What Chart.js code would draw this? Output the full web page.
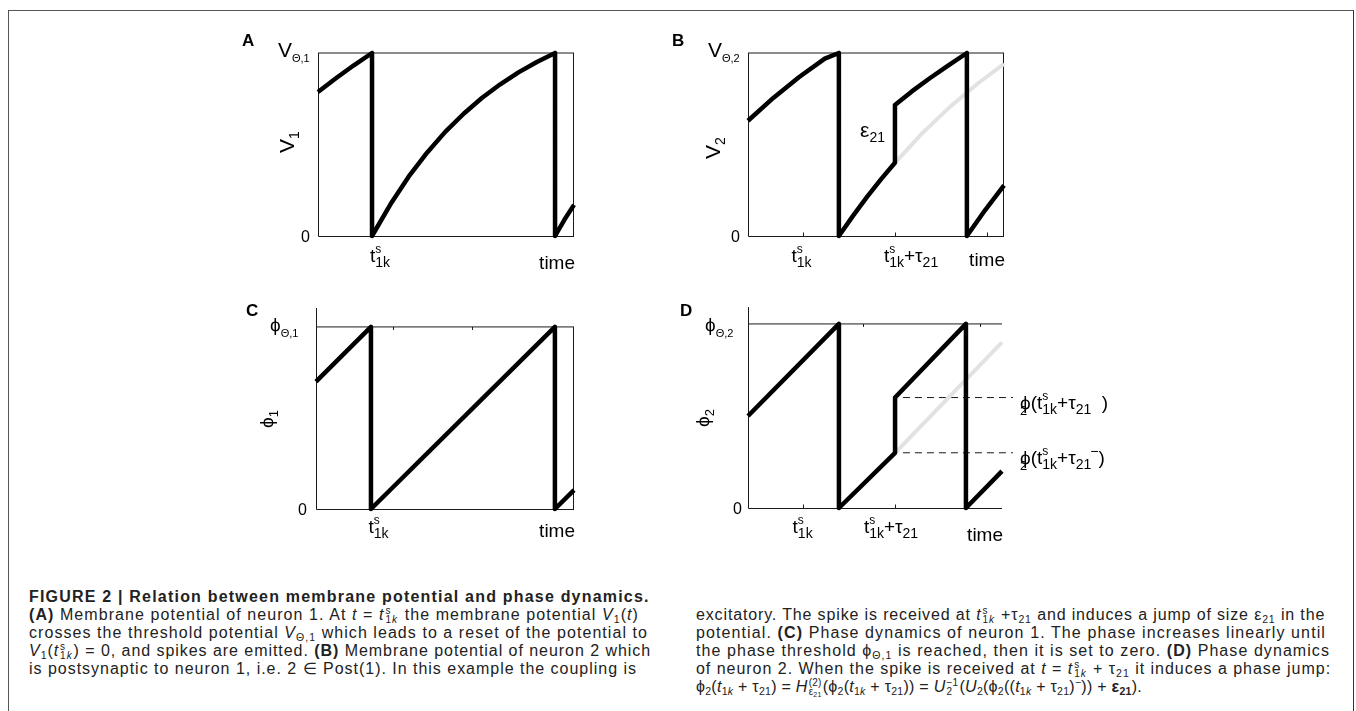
<!DOCTYPE html>
<html><head><meta charset="utf-8">
<script src="https://cdn.jsdelivr.net/npm/chart.js@4.4.0/dist/chart.umd.min.js"></script>
<style>
html,body{margin:0;padding:0;background:#fff;width:1356px;height:711px;overflow:hidden;position:relative}
#frame{position:absolute;left:8px;top:10px;width:1346px;height:800px;border:1px solid #555;border-right:1.5px solid #333;box-sizing:border-box}
canvas{position:absolute}
.ln{position:absolute;white-space:nowrap;font-family:"Liberation Sans",Arial,sans-serif;font-size:16px;line-height:18px;color:#222}
.ln sub{font-size:10.5px;vertical-align:-3px;line-height:0}
.ln sup{font-size:10.5px;vertical-align:6px;line-height:0}
.st{display:inline-flex;flex-direction:column;font-size:10px;line-height:9px;vertical-align:6px;margin:0 1px}
.st sub{font-size:7px;vertical-align:-2px}
</style></head>
<body>
<div id="frame"></div>
<div id="cap"></div>
<script>
// ---------------- data ----------------
const timeA = [0, 0.7, 1.4, 2.11, 2.11, 2.83, 3.54, 4.26, 4.97, 5.69, 6.40, 7.12, 7.83, 8.55, 9.26, 9.26, 9.63, 10];
const v1    = [0.787, 0.862, 0.933, 1, 0, 0.173, 0.324, 0.455, 0.569, 0.668, 0.754, 0.829, 0.894, 0.951, 1, 0, 0.09, 0.17];

const timeB = [0, 1, 2, 3, 3.55, 3.55, 4.1, 4.65, 5.2, 5.74, 5.74, 6.4, 7.1, 7.8, 8.55, 8.55, 9.25, 10];
const v2    = [0.63, 0.756, 0.869, 0.969, 1, 0, 0.110, 0.214, 0.311, 0.40, 0.716, 0.79, 0.862, 0.93, 1, 0, 0.139, 0.276];
const timeBNoJump = [5.74, 6.8, 7.9, 9.0, 10];
const v2NoJump    = [0.40, 0.561, 0.707, 0.836, 0.94];

const timeC = [0, 2.13, 2.13, 9.26, 9.26, 10];
const phi1  = [0.70, 1, 0, 1, 0, 0.104];

const timeD = [0, 3.58, 3.58, 5.79, 5.79, 8.58, 8.58, 10];
const phi2  = [0.50, 1, 0, 0.30, 0.60, 1, 0, 0.20];
const timeDNoJump = [5.79, 10];
const phi2NoJump  = [0.30, 0.90];
const dashTimeD   = [6.1, 10.43];
const phi2JumpLevels = [0.60, 0.30];   // after jump, before jump

const thresholdTime  = [0, 10];
const thresholdLevel = [1, 1];

// tick marks (time values) and tick-label centres
const ticksBBottom = [2.15, 5.74, 9.34];
const ticksCTop    = [2.98, 6.05];
const ticksDBottom = [2.17, 5.79];
const ticksDTop    = [4.53, 9.13];
const labelTimeA   = [2.42];
const labelTimeB   = [2.09, 6.37];
const labelTimeC   = [2.42];
const labelTimeD   = [2.15, 5.63];

// --------------- helpers ---------------
const FF = '"Liberation Sans", Arial, "DejaVu Sans", sans-serif';
function pts(xs, ys){ return xs.map((x,i)=>({x:x, y:ys[i]})); }
function fontOf(s,o){ return (o.b?'bold ':'')+(o.i?'italic ':'')+s+'px '+FF; }
function rich(ctx, parts, x, y, align){
  let cx=0, prev=null; const items=[];
  for(const p of parts){
    const t=p[0], s=p[1], dy=p[2], o=p[3]||{};
    ctx.font=fontOf(s,o); const w=ctx.measureText(t).width;
    let sx;
    if(o.stack && prev){ sx=prev.sx; cx=Math.max(cx, sx+w); }
    else { sx=cx+(o.dx||0); cx=sx+w; }
    const it={t,s,dy,o,sx,w}; items.push(it); if(!o.stack) prev=it;
  }
  const off = align==='center' ? -cx/2 : align==='right' ? -cx : 0;
  ctx.textAlign='left'; ctx.textBaseline='alphabetic'; ctx.fillStyle='#000';
  for(const it of items){ ctx.font=fontOf(it.s,it.o); ctx.fillText(it.t, x+off+it.sx, y+it.dy); }
}
const TS1K = [['t',19,0],['s',12,-9],['1k',14,5,{stack:true}]];
const TS1KTAU = TS1K.concat([['+τ',19,0],['21',14,5]]);

const decoPlugin = {
  id:'deco',
  beforeDatasetsDraw(chart){
    const cfg=chart.options.plugins.deco; const ctx=chart.ctx; const a=chart.chartArea;
    const xs=chart.scales.x, ys=chart.scales.y;
    const L=Math.round(a.left)+0.5, B=Math.round(a.bottom)+0.5, R=Math.round(a.right)-0.5;
    const yTop = cfg.axisExt ? Math.round(a.top) : Math.round(ys.getPixelForValue(1));
    ctx.save(); ctx.strokeStyle='#1a1a1a'; ctx.lineWidth=1;
    ctx.beginPath(); ctx.moveTo(L,yTop); ctx.lineTo(L,B); ctx.lineTo(R+0.5,B);
    if(cfg.rightBorder){ ctx.moveTo(R,B); ctx.lineTo(R, Math.round(ys.getPixelForValue(1))); }
    for(const t of (cfg.ticksBottom||[])){ const px=Math.round(xs.getPixelForValue(t))+0.5; ctx.moveTo(px,B); ctx.lineTo(px,B-4); }
    for(const t of (cfg.ticksTop||[])){ const px=Math.round(xs.getPixelForValue(t))+0.5; const py=ys.getPixelForValue(1); ctx.moveTo(px,py); ctx.lineTo(px,py+3); }
    ctx.stroke(); ctx.restore();
  },
  afterDraw(chart){
    const cfg=chart.options.plugins.deco; const ctx=chart.ctx;
    const xs=chart.scales.x, ys=chart.scales.y;
    ctx.save();
    for(const l of cfg.labels){
      const x = l.xVal!==undefined ? xs.getPixelForValue(l.xVal) : l.x - cfg.ox;
      const y = l.yVal!==undefined ? ys.getPixelForValue(l.yVal) + (l.dy||0) : l.y - cfg.oy;
      if(l.rot){ ctx.save(); ctx.translate(x,y); ctx.rotate(-Math.PI/2); rich(ctx,l.parts,0,0,'center'); ctx.restore(); }
      else rich(ctx,l.parts,x,y,l.align||'left');
    }
    ctx.restore();
  }
};

function blackLine(data){ return {data, borderColor:'#000', borderWidth:4.5, pointRadius:0, borderJoinStyle:'round', borderCapStyle:'butt', clip:8, tension:0}; }
function grayLine(data){ return {data, borderColor:'#e2e2e2', borderWidth:4, pointRadius:0, borderJoinStyle:'round', clip:8, tension:0}; }
function thinLine(data, dash, clip){ return {data, borderColor:'#1a1a1a', borderWidth:1, pointRadius:0, borderDash:dash||[], clip:clip===undefined?2:clip, tension:0}; }

function makePanel(p, datasets, deco){
  const c=document.createElement('canvas');
  c.width=p.w; c.height=p.h;
  c.style.left=p.left+'px'; c.style.top=p.top+'px'; c.style.width=p.w+'px'; c.style.height=p.h+'px';
  document.body.appendChild(c);
  deco.ox=p.left; deco.oy=p.top;
  return new Chart(c, {
    type:'line',
    data:{datasets},
    plugins:[decoPlugin],
    options:{
      responsive:false, animation:false, events:[], devicePixelRatio:1,
      layout:{padding:p.pad},
      plugins:{legend:{display:false}, tooltip:{enabled:false}, deco:deco},
      scales:{
        x:{type:'linear', min:0, max:10, display:false},
        y:{type:'linear', min:0, max:p.yMax, display:false}
      }
    }
  });
}

// ---- Panel A ----
makePanel({left:220, top:25, w:410, h:255, pad:{left:98, top:28, right:56, bottom:44}, yMax:1},
  [blackLine(pts(timeA, v1)), thinLine(pts(thresholdTime, thresholdLevel))],
  {axisExt:false, rightBorder:true, labels:[
    {parts:[['A',17,0,{b:true}]], x:242, y:46},
    {parts:[['V',21,0],['Θ,1',11,5]], x:278, y:57},
    {parts:[['V',21,0],['1',14,5]], x:294, y:142, rot:true},
    {parts:[['0',16,0]], x:310, yVal:0, dy:6, align:'right'},
    {parts:TS1K, xVal:labelTimeA[0], y:262, align:'center'},
    {parts:[['time',19,0]], x:575, y:269, align:'right'}
  ]});

// ---- Panel B ----
makePanel({left:640, top:25, w:400, h:255, pad:{left:108, top:28, right:36, bottom:44}, yMax:1},
  [blackLine(pts(timeB, v2)), grayLine(pts(timeBNoJump, v2NoJump)), thinLine(pts(thresholdTime, thresholdLevel))],
  {axisExt:false, rightBorder:true, ticksBottom:ticksBBottom, labels:[
    {parts:[['B',17,0,{b:true}]], x:672, y:46},
    {parts:[['V',21,0],['Θ,2',11,5]], x:708, y:57},
    {parts:[['V',21,0],['2',14,5]], x:720, y:148, rot:true},
    {parts:[['0',16,0]], x:740, yVal:0, dy:6, align:'right'},
    {parts:[['ε',21,0],['21',14,5]], x:885, y:137, align:'right'},
    {parts:TS1K, xVal:labelTimeB[0], y:262, align:'center'},
    {parts:TS1KTAU, xVal:labelTimeB[1], y:262, align:'center'},
    {parts:[['time',19,0]], x:1005, y:266, align:'right'}
  ]});

// ---- Panel C ----
makePanel({left:220, top:290, w:410, h:255, pad:{left:96, top:18, right:56, bottom:36}, yMax:1.104},
  [blackLine(pts(timeC, phi1)), thinLine(pts(thresholdTime, thresholdLevel))],
  {axisExt:true, rightBorder:true, ticksTop:ticksCTop, labels:[
    {parts:[['C',17,0,{b:true}]], x:246, y:316},
    {parts:[['ϕ',19,0],['Θ,1',11,6]], x:270, y:331},
    {parts:[['ϕ',19,0],['1',13,5]], x:273, y:419, rot:true},
    {parts:[['0',16,0]], x:307, yVal:0, dy:6, align:'right'},
    {parts:TS1K, xVal:labelTimeC[0], y:533, align:'center'},
    {parts:[['time',19,0]], x:575, y:537, align:'right'}
  ]});

// ---- Panel D ----
makePanel({left:640, top:290, w:500, h:255, pad:{left:108, top:17, right:138, bottom:37}, yMax:1.092},
  [blackLine(pts(timeD, phi2)), grayLine(pts(timeDNoJump, phi2NoJump)), thinLine(pts(thresholdTime, thresholdLevel)),
   thinLine(pts(dashTimeD, [phi2JumpLevels[0], phi2JumpLevels[0]]), [7,5], false),
   thinLine(pts(dashTimeD, [phi2JumpLevels[1], phi2JumpLevels[1]]), [7,5], false)],
  {axisExt:true, rightBorder:false, ticksBottom:ticksDBottom, ticksTop:ticksDTop, labels:[
    {parts:[['D',17,0,{b:true}]], x:680, y:316},
    {parts:[['ϕ',19,0],['Θ,2',11,6]], x:705, y:331},
    {parts:[['ϕ',19,0],['2',13,5]], x:709, y:418, rot:true},
    {parts:[['0',16,0]], x:742, yVal:0, dy:6, align:'right'},
    {parts:TS1K, xVal:labelTimeD[0], y:533, align:'center'},
    {parts:TS1KTAU, xVal:labelTimeD[1], y:533, align:'center'},
    {parts:[['time',19,0]], x:1003, y:541, align:'right'},
    {parts:[['ϕ',19,0],['2',13,6,{stack:true}],['(t',19,0],['s',12,-9],['1k',14,5,{stack:true}],['+τ',19,0],['21',14,5],['  )',19,0]], x:1020, yVal:phi2JumpLevels[0], dy:11},
    {parts:[['ϕ',19,0],['2',13,6,{stack:true}],['(t',19,0],['s',12,-9],['1k',14,5,{stack:true}],['+τ',19,0],['21',14,5],['−',14,-8,{dx:-1}],[')',19,0]], x:1020, yVal:phi2JumpLevels[1], dy:11}
  ]});

// ---------------- caption ----------------
const ST = '<span class="st"><span>s</span><span>1<i>k</i></span></span>';
const captionLeft = [
  ['<b>FIGURE 2 | Relation between membrane potential and phase dynamics.</b>', 655],
  ['<b>(A)</b> Membrane potential of neuron 1. At <i>t</i> = <i>t</i>'+ST+' the membrane potential <i>V</i><sub>1</sub>(<i>t</i>)', 640],
  ['crosses the threshold potential <i>V</i><sub>Θ,1</sub> which leads to a reset of the potential to', 648],
  ['<i>V</i><sub>1</sub>(<i>t</i>'+ST+') = 0, and spikes are emitted. <b>(B)</b> Membrane potential of neuron 2 which', 652],
  ['is postsynaptic to neuron 1, i.e. 2 ∈ Post(1). In this example the coupling is', 637]
];
const captionRight = [
  ['excitatory. The spike is received at <i>t</i>'+ST+' +τ<sub>21</sub> and induces a jump of size ε<sub>21</sub> in the', 1326],
  ['potential. <b>(C)</b> Phase dynamics of neuron 1. The phase increases linearly until', 1326],
  ['the phase threshold ϕ<sub>Θ,1</sub> is reached, then it is set to zero. <b>(D)</b> Phase dynamics', 1330],
  ['of neuron 2. When the spike is received at <i>t</i> = <i>t</i>'+ST+' + τ<sub>21</sub> it induces a phase jump:', 1332],
  ['ϕ<sub>2</sub>(<i>t</i><sub>1<i>k</i></sub> + τ<sub>21</sub>) = <i>H</i><span class="st"><span>(2)</span><span>ε<sub>21</sub></span></span>(ϕ<sub>2</sub>(<i>t</i><sub>1<i>k</i></sub> + τ<sub>21</sub>)) = <i>U</i><span class="st"><span>−1</span><span>2</span></span>(<i>U</i><sub>2</sub>(ϕ<sub>2</sub>((<i>t</i><sub>1<i>k</i></sub> + τ<sub>21</sub>)<sup>−</sup>)) + <b>ε<sub>21</sub></b>).', 1143]
];
const cap=document.getElementById('cap');
function addLines(lines, left, top){
  lines.forEach((l,i)=>{
    const d=document.createElement('div'); d.className='ln'; d.innerHTML=l[0];
    d.style.left=left+'px'; d.style.top=(top+18*i)+'px'; cap.appendChild(d);
    const w=d.getBoundingClientRect().width; const n=d.textContent.length;
    if(n>0){ let ls=(l[1]-left-w)/n; ls=Math.max(-0.6,Math.min(1.2,ls)); d.style.letterSpacing=ls+'px'; }
  });
}
addLines(captionLeft, 29, 588);
addLines(captionRight, 696, 606);
</script>
</body></html>
